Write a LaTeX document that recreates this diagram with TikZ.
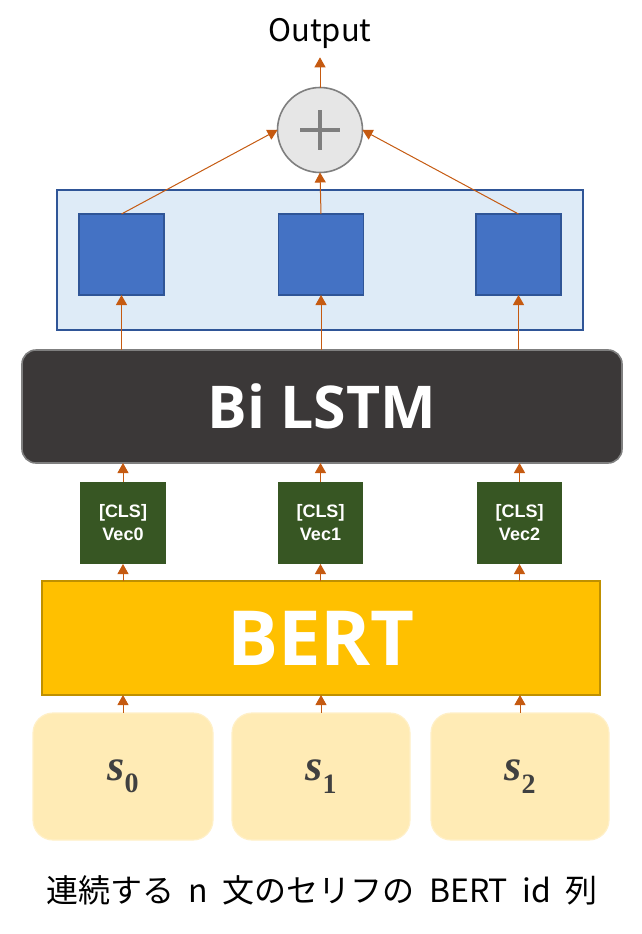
\documentclass[tikz,border=0pt]{standalone}
\usepackage{fontspec}
\setmainfont{Noto Sans CJK JP}
\newfontfamily\headfont{Open Sans}
\newfontfamily\vecfont{Liberation Sans}
\newfontfamily\mathlike{Liberation Serif}
\usetikzlibrary{arrows.meta}

\definecolor{barrow}{HTML}{C55A11}
\definecolor{bpale}{HTML}{DEEBF7}
\definecolor{bnavy}{HTML}{2F5597}
\definecolor{bblue}{HTML}{4472C4}
\definecolor{bdark}{HTML}{3B3838}
\definecolor{bgrey}{HTML}{7F7F7F}
\definecolor{bcircle}{HTML}{E6E6E6}
\definecolor{bgreen}{HTML}{375623}
\definecolor{bgold}{HTML}{FFC000}
\definecolor{bgoldline}{HTML}{BF9000}
\definecolor{bcream}{HTML}{FFEBB5}
\definecolor{bcreamline}{HTML}{FFF0C8}
\definecolor{btext}{HTML}{404040}

\newcommand{\sentlabel}[1]{{\mathlike\bfseries\itshape s}\raisebox{-0.28em}{\mathlike\bfseries\fontsize{28}{30}\selectfont #1}}
\newcommand{\gap}{\hspace{0.45em}}

\tikzset{
  flow/.style={draw=barrow, line width=1pt, -{Triangle[width=11pt,length=10pt]}},
  plain/.style={inner sep=0pt, outer sep=0pt},
  sumnode/.style={plain, circle, minimum size=85pt, draw=bgrey, line width=1.6pt, fill=bcircle},
  layerbox/.style={plain, draw=bnavy, line width=1.6pt, fill=bpale},
  cellbox/.style={plain, draw=bnavy, line width=1.6pt, fill=bblue},
  lstmbox/.style={plain, draw=bgrey, line width=1.6pt, fill=bdark, rounded corners=14pt,
    text=white, font=\headfont\bfseries\fontsize{59}{64}\selectfont},
  vecbox/.style={plain, fill=bgreen, text=white, align=center,
    font=\vecfont\bfseries\fontsize{18}{23}\selectfont},
  bertbox/.style={plain, draw=bgoldline, line width=1.6pt, fill=bgold,
    text=white, font=\headfont\bfseries\fontsize{76}{80}\selectfont},
  sentbox/.style={plain, draw=bcreamline, line width=1.2pt, fill=bcream, rounded corners=20pt,
    text=btext, font=\fontsize{44}{48}\selectfont},
}

\begin{document}
\begin{tikzpicture}[x=1pt,y=-1pt]
  \useasboundingbox (0,0) rectangle (642,934);
  % output and sum
  \node[inner xsep=0pt, inner ysep=9pt, font=\fontsize{31}{36}\selectfont] (out) at (320,33) {Output};
  \node[sumnode] (plus) at (320,130) {};
  \draw[bgrey, line width=4pt] (plus.center) +(-20,0) -- +(20,0);
  \draw[bgrey, line width=4pt] (plus.center) +(0,-20) -- +(0,20);
  % lstm outputs
  \node[layerbox, minimum width=526pt, minimum height=140pt] (layer) at (320,260) {};
  \node[cellbox, minimum width=85pt, minimum height=81pt] (h0) at (121.5,254.5) {};
  \node[cellbox, minimum width=85pt, minimum height=81pt] (h1) at (321,254.5) {};
  \node[cellbox, minimum width=85pt, minimum height=81pt] (h2) at (518.5,254.5) {};
  \node[lstmbox, minimum width=600pt, minimum height=113pt] (lstm) at (322,406.5) {Bi LSTM};
  % cls vectors
  \node[vecbox, minimum width=86pt, minimum height=82pt] (v0) at (123,523) {[CLS]\\Vec0};
  \node[vecbox, minimum width=85pt, minimum height=82pt] (v1) at (320.5,523) {[CLS]\\Vec1};
  \node[vecbox, minimum width=85pt, minimum height=82pt] (v2) at (519.5,523) {[CLS]\\Vec2};
  \node[bertbox, minimum width=558pt, minimum height=114pt] (bert) at (321,638) {BERT};
  % sentences
  \node[sentbox, minimum width=180pt, minimum height=127pt] (s0) at (123,776.5) {\sentlabel{0}};
  \node[sentbox, minimum width=178pt, minimum height=127pt] (s1) at (321,776.5) {\sentlabel{1}};
  \node[sentbox, minimum width=178pt, minimum height=127pt] (s2) at (520,776.5) {\sentlabel{2}};
  \node[font=\fontsize{32}{38}\selectfont] (caption) at (322,890) {連続する\gap n\gap 文のセリフの\gap BERT\gap id\gap 列};
  % arrows
  \draw[flow] (s0.north) -- (s0.north |- bert.south);
  \draw[flow] (s1.north) -- (s1.north |- bert.south);
  \draw[flow] (s2.north) -- (s2.north |- bert.south);
  \draw[flow] (v0.south |- bert.north) -- (v0.south);
  \draw[flow] (v1.south |- bert.north) -- (v1.south);
  \draw[flow] (v2.south |- bert.north) -- (v2.south);
  \draw[flow] (v0.north) -- (v0.north |- lstm.south);
  \draw[flow] (v1.north) -- (v1.north |- lstm.south);
  \draw[flow] (v2.north) -- (v2.north |- lstm.south);
  \draw[flow] (h0.south |- lstm.north) -- (h0.south);
  \draw[flow] (h1.south |- lstm.north) -- (h1.south);
  \draw[flow] (h2.south |- lstm.north) -- (h2.south);
  \draw[flow] (h0.north) -- (plus.west);
  \draw[flow] (h1.north) -- (plus.south);
  \draw[flow] (h2.north) -- (plus.east);
  \draw[flow] (plus.north) -- (out.south);
\end{tikzpicture}
\end{document}
